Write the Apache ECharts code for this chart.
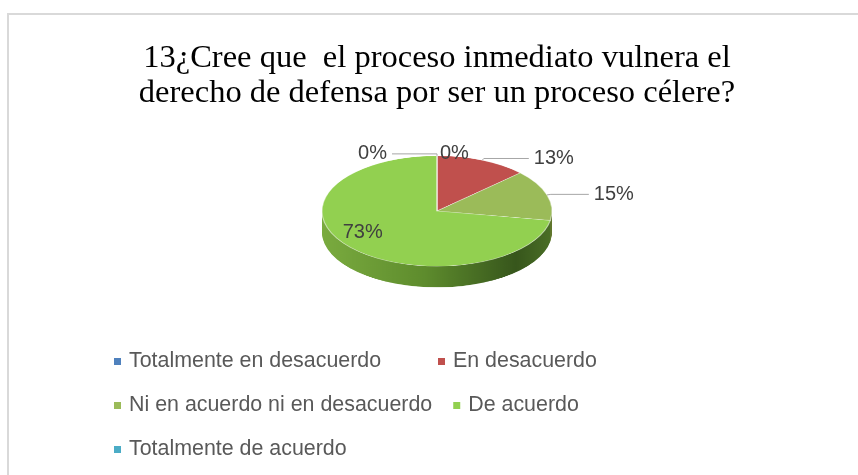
<!DOCTYPE html>
<html><head><meta charset="utf-8">
<script src="https://cdn.jsdelivr.net/npm/echarts@6.0.0/dist/echarts.min.js"></script>
<style>
html,body{margin:0;padding:0;background:#fff;overflow:hidden}
#wrap{position:relative;width:858px;height:475px}
#pie,#main{position:absolute;left:0;top:0;width:858px;height:475px}
#pie{transform-origin:437px 211px;transform:scaleY(0.48)}
</style></head><body>
<div id="wrap"><div id="pie"></div><div id="main"></div></div>
<script>
// ---- data ----
const categories = ['Totalmente en desacuerdo', 'En desacuerdo', 'Ni en acuerdo ni en desacuerdo', 'De acuerdo', 'Totalmente de acuerdo'];
const percents = [0, 13, 15, 73, 0];
const titleText = '13¿Cree que  el proceso inmediato vulnera el\nderecho de defensa por ser un proceso célere?';

// ---- styling ----
const topColors = ['#4F81BD', '#C0504D', '#9BBB59', '#92D050', '#4BACC6'];
const greenSide = new echarts.graphic.LinearGradient(0, 0, 1, 0, [
  {offset: 0, color: '#7aab3f'}, {offset: 0.45, color: '#5e8c2d'}, {offset: 0.85, color: '#37561c'}, {offset: 1, color: '#4a6e26'}
]);
const sideColors = ['#2f5077', '#80302e', '#62782f', greenSide, '#2d6e82'];
const CX = 437, CY = 211, R = 115, K = 0.48, DEPTH = 44, STEP = 2;

// ---- pie body (drawn in a vertically squashed layer for the 3D look) ----
const pieChart = echarts.init(document.getElementById('pie'), null, {renderer: 'canvas'});
const bodySeries = [];
for (let d = DEPTH; d >= STEP; d -= STEP) {
  bodySeries.push({
    type: 'pie', center: [CX, CY + d], radius: R, startAngle: 90, silent: true, animation: false,
    label: {show: false}, labelLine: {show: false}, emphasis: {disabled: true},
    data: categories.map((n, i) => ({name: n, value: percents[i], itemStyle: {color: sideColors[i]}}))
  });
}
bodySeries.push({
  type: 'pie', center: [CX, CY], radius: R, startAngle: 90, silent: true, animation: false,
  label: {show: false}, labelLine: {show: false}, emphasis: {disabled: true},
  itemStyle: {borderColor: 'rgba(255,255,255,0.55)', borderWidth: 1.2},
  data: categories.map((n, i) => ({name: n, value: percents[i], itemStyle: {color: topColors[i]}}))
});
pieChart.setOption({animation: false, series: bodySeries});

// ---- title, legend, labels ----
const main = echarts.init(document.getElementById('main'), null, {renderer: 'canvas'});
main.setOption({
  animation: false,
  graphic: [{type: 'rect', silent: true, shape: {x: 8, y: 14, width: 900, height: 500},
    style: {fill: 'none', stroke: '#d9d9d9', lineWidth: 2}}],
  title: {
    text: titleText, left: 437, textAlign: 'center', top: 41, padding: 0,
    textStyle: {fontFamily: 'Liberation Serif', fontSize: 32.5, fontWeight: 'normal', color: '#000', lineHeight: 35}
  },
  legend: {
    orient: 'horizontal', left: 114, top: 350, width: 700, padding: 0,
    itemWidth: 7, itemHeight: 7, itemGap: 21, icon: 'rect',
    data: categories.map((n, i) => ({name: n, itemStyle: {color: topColors[i]}})),
    textStyle: {fontFamily: 'Liberation Sans', fontSize: 21.4, color: '#595959', width: 288, lineHeight: 23, padding: [0, 0, 0, 3]}
  },
  series: [{
    type: 'pie', center: [CX, CY], radius: R, startAngle: 90, silent: true, animation: false,
    avoidLabelOverlap: false, emphasis: {disabled: true},
    itemStyle: {color: 'rgba(0,0,0,0)'},
    label: {show: true, formatter: '{c}%', fontFamily: 'Liberation Sans', fontSize: 20, color: '#404040'},
    labelLine: {show: true, length: 4, length2: 45, lineStyle: {color: '#a6a6a6', width: 1}},
    labelLayout: function (p) {
      const r = p.labelRect;
      const mid = r.y + r.height / 2;
      const out = {y: CY + (mid - CY) * K};
      if (p.labelLinePoints) {
        out.labelLinePoints = p.labelLinePoints.map(pt => [pt[0], CY + (pt[1] - CY) * K]);
      }
      if (p.dataIndex === 0) { out.x = p.rect.x + 3; out.align = 'left'; }
      return out;
    },
    data: categories.map((n, i) => {
      const item = {name: n, value: percents[i]};
      if (i === 3) { item.label = {position: 'inside', offset: [-28, 6]}; item.labelLine = {show: false}; }
      if (i === 0) { item.labelLine = {show: false}; }
      if (i === 2) { item.labelLine = {length2: 38}; }
      return item;
    })
  }]
});
</script>
</body></html>
